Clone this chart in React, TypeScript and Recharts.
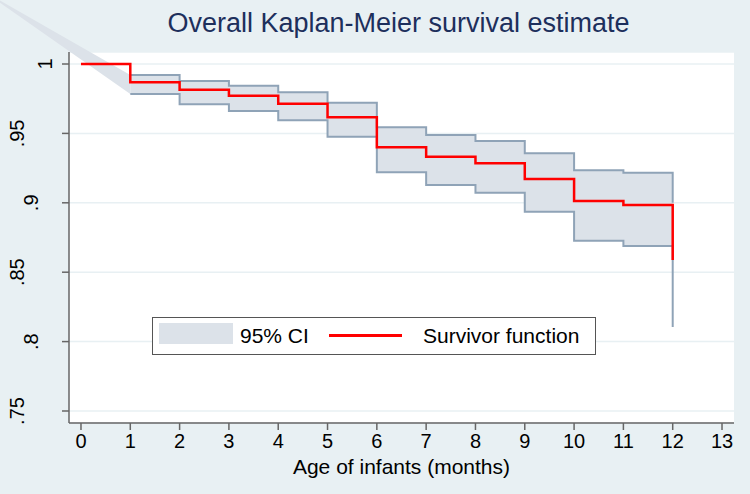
import React from "react";
import {
  ComposedChart,
  Area,
  Line,
  XAxis,
  YAxis,
  CartesianGrid,
  ReferenceArea,
  Legend,
  Label,
} from "recharts";

const FONT = "'Liberation Sans', Arial, Helvetica, sans-serif";
const BG = "#e8f0f3";
const CI_FILL = "#dce2e9";
const CI_LINE = "#8fa3b7";
const RED = "#ff0000";

// Kaplan-Meier estimate
const months = [0, 1, 2, 3, 4, 5, 6, 7, 8, 9, 10, 11, 12];
const survivor = [1, 0.9868, 0.9815, 0.9772, 0.9714, 0.9616, 0.94, 0.9332, 0.9285, 0.9171, 0.9013, 0.8984, 0.8588];
const ciUpper = [null, 0.9921, 0.9878, 0.9844, 0.9796, 0.9721, 0.9544, 0.9488, 0.9445, 0.9357, 0.9234, 0.9217, 0.9];
const ciLower = [null, 0.9784, 0.971, 0.9661, 0.9594, 0.9476, 0.922, 0.9128, 0.9073, 0.8936, 0.8727, 0.8689, 0.8105];

// Stata joins the band from a point outside the plot to month 1
const ciStartMonth = -2;
const ciStartValue = 1.053;

const xTicks = [0, 1, 2, 3, 4, 5, 6, 7, 8, 9, 10, 11, 12, 13];
const yTicks = [0.75, 0.8, 0.85, 0.9, 0.95, 1];
const yTickLabels = [".75", ".8", ".85", ".9", ".95", "1"];

const data = months.map((m, i) => ({
  month: m,
  surv: survivor[i],
  upper: ciUpper[i],
  lower: ciLower[i],
  band: ciLower[i] == null ? null : [ciLower[i], ciUpper[i]],
}));

function YTick({ x, y, payload }) {
  const idx = yTicks.indexOf(payload.value);
  const label = idx >= 0 ? yTickLabels[idx] : String(payload.value);
  const cx = x - 1 - 14 * label.length;
  return (
    <text
      x={cx}
      y={y}
      dy="0.35em"
      textAnchor="middle"
      transform={`rotate(-90, ${cx}, ${y})`}
      fill="#000"
      fontSize={20}
      fontFamily={FONT}
    >
      {label}
    </text>
  );
}

function Wedge(props) {
  const { x, y, width, height } = props;
  if (x == null) return null;
  const frac = (ciStartValue - ciUpper[1]) / (ciStartValue - ciLower[1]);
  const pts = `${x},${y} ${x + width},${y + height * frac} ${x + width},${y + height}`;
  return <polygon points={pts} fill={CI_FILL} stroke="none" />;
}

function LegendBox() {
  return (
    <div
      style={{
        boxSizing: "border-box",
        width: 444,
        height: 38,
        border: "1px solid #555",
        background: "#fff",
        position: "relative",
        fontFamily: FONT,
        fontSize: 21,
        color: "#000",
      }}
    >
      <div style={{ position: "absolute", left: 6, top: 5, width: 74, height: 21, background: CI_FILL }} />
      <div style={{ position: "absolute", left: 87, top: 0, lineHeight: "36px" }}>95% CI</div>
      <div style={{ position: "absolute", left: 176, top: 16, width: 73, height: 3, background: RED }} />
      <div style={{ position: "absolute", left: 270, top: 0, lineHeight: "36px" }}>Survivor function</div>
    </div>
  );
}

export default function App() {
  return (
    <div style={{ position: "absolute", left: 0, top: 0, width: 750, height: 494, background: BG }}>
      <div
        style={{
          position: "absolute",
          left: 0,
          top: 6,
          width: 797,
          textAlign: "center",
          fontFamily: FONT,
          fontSize: 27,
          lineHeight: "34px",
          color: "#1d2f5c",
          zIndex: 2,
        }}
      >
        Overall Kaplan-Meier survival estimate
      </div>
      <ComposedChart
        width={750}
        height={494}
        data={data}
        margin={{ top: 52, right: 16, left: 9, bottom: 20 }}
      >
        <CartesianGrid horizontal vertical={false} fill="#fff" stroke={BG} strokeWidth={1.5} />
        <XAxis
          type="number"
          dataKey="month"
          domain={[-0.243, 13.243]}
          allowDataOverflow
          ticks={xTicks}
          interval={0}
          height={51}
          tickSize={7}
          tickMargin={4}
          axisLine={{ stroke: "#666", strokeWidth: 1.5 }}
          tickLine={{ stroke: "#666", strokeWidth: 1.5 }}
          tick={{ fill: "#000", fontSize: 20, fontFamily: FONT }}
        >
          <Label
            value="Age of infants (months)"
            position="insideBottom"
            offset={0}
            fill="#000"
            fontSize={21}
            fontFamily={FONT}
          />
        </XAxis>
        <YAxis
          type="number"
          domain={[0.74135, 1.00865]}
          allowDataOverflow
          ticks={yTicks}
          interval={0}
          width={60}
          tickSize={7}
          tickMargin={2}
          axisLine={{ stroke: "#666", strokeWidth: 1.5 }}
          tickLine={{ stroke: "#666", strokeWidth: 1.5 }}
          tick={YTick}
        />
        <ReferenceArea
          x1={ciStartMonth}
          x2={1}
          y1={ciLower[1]}
          y2={ciStartValue}
          ifOverflow="visible"
          shape={Wedge}
        />
        <Area
          dataKey="band"
          type="stepAfter"
          fill={CI_FILL}
          fillOpacity={1}
          stroke="none"
          isAnimationActive={false}
          legendType="none"
        />
        <Line dataKey="upper" type="stepAfter" stroke={CI_LINE} strokeWidth={2} dot={false} isAnimationActive={false} />
        <Line dataKey="lower" type="stepAfter" stroke={CI_LINE} strokeWidth={2} dot={false} isAnimationActive={false} />
        <Line dataKey="surv" type="stepAfter" stroke={RED} strokeWidth={2.5} dot={false} isAnimationActive={false} />
        <Legend
          layout="horizontal"
          verticalAlign="middle"
          align="center"
          content={<LegendBox />}
          wrapperStyle={{ left: 152, top: 317, width: 444, height: 38 }}
        />
      </ComposedChart>
    </div>
  );
}
